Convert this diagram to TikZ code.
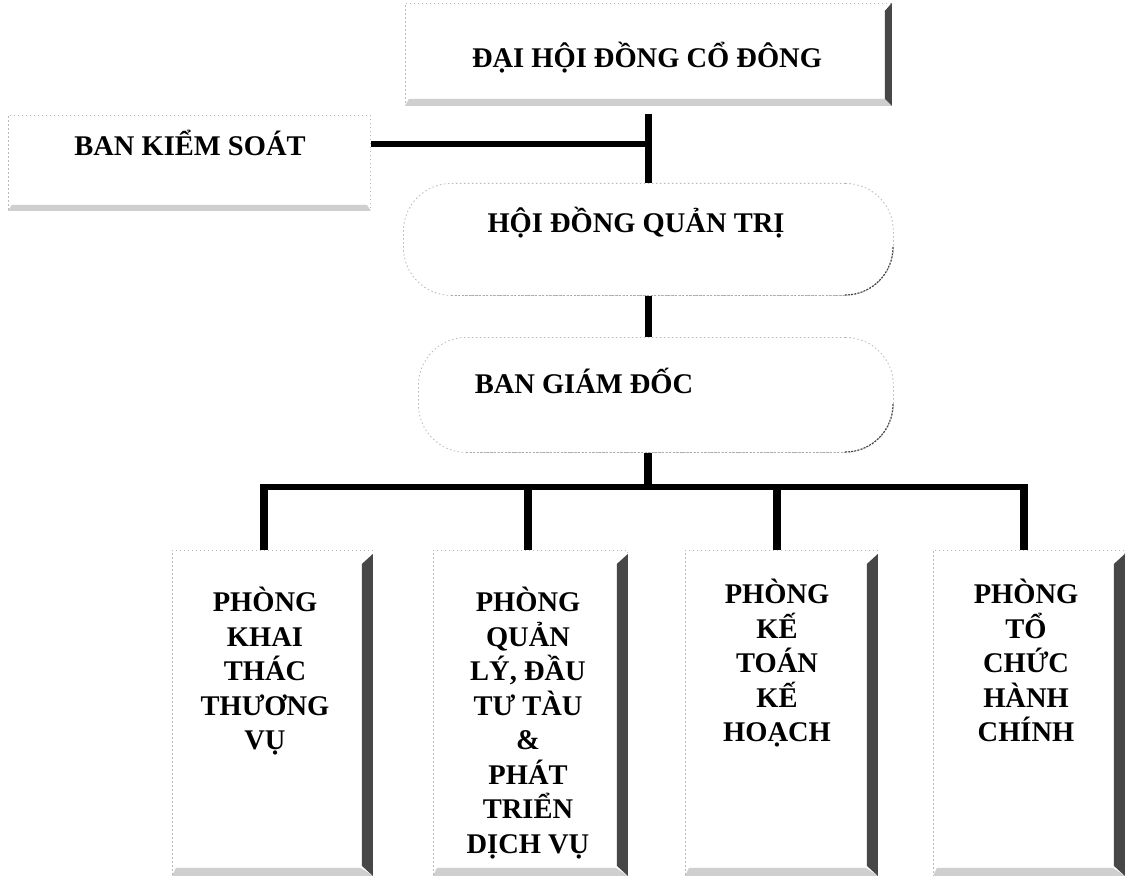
\documentclass[tikz,border=0pt]{standalone}
\usepackage{fontspec}
\setmainfont{Liberation Serif}
\begin{document}
\begin{tikzpicture}[x=1pt,y=-1pt]
\tikzset{
  boxedge/.style={draw=gray!55, line width=0.8pt, dash pattern=on 1.5pt off 2.5pt, inner sep=0pt, anchor=north west},
  roundbox/.style={boxedge, rounded corners=48pt},
  txt/.style={font=\bfseries\fontsize{28.5}{34.5}\selectfont, inner sep=0pt},
  mtxt/.style={txt, align=center, anchor=north},
  vbar/.style={line width=7.5pt},
  hbar/.style={line width=5.5pt},
  bevel/.style={fill=black!72},
  band/.style={fill=gray!38},
  darkarc/.style={draw=black!75, line width=1.1pt, dash pattern=on 2pt off 1.2pt},
  lightedge/.style={draw=gray!65, line width=1pt, dash pattern=on 2pt off 1.5pt}
}
\useasboundingbox (0,0) rectangle (1129,877);
\fill[white] (0,0) rectangle (1129,877);

% top box
\node[boxedge, minimum width=486pt, minimum height=102pt] (dhd) at (405,3) {};
\fill[band] (dhd.south west) -- (dhd.south east) -- ([xshift=-7pt,yshift=7pt]dhd.south east) -- ([xshift=4pt,yshift=7pt]dhd.south west) -- cycle;
\fill[bevel] (dhd.north east) -- (dhd.south east) -- ([xshift=-7pt,yshift=7pt]dhd.south east) -- ([xshift=-7pt,yshift=-8pt]dhd.north east) -- cycle;
\node[txt, anchor=base] (tdhd) at (647,68) {ĐẠI HỘI ĐỒNG CỔ ĐÔNG};

% ban kiem soat
\node[boxedge, minimum width=362pt, minimum height=95pt] (bks) at (8,115) {};
\fill[band] (bks.south west) -- (bks.south east) -- ([xshift=-4pt,yshift=6pt]bks.south east) -- ([xshift=4pt,yshift=6pt]bks.south west) -- cycle;
\node[txt, anchor=base] (tbks) at (190,156) {BAN KIỂM SOÁT};

% hoi dong quan tri
\node[roundbox, minimum width=490pt, minimum height=112pt] (hdqt) at (403,183) {};
\draw[lightedge] (451,295) -- (845,295);
\draw[darkarc] (893,247) arc[start angle=0, end angle=-90, radius=48pt];
\node[txt, anchor=base] (thdqt) at (636,233) {HỘI ĐỒNG QUẢN TRỊ};

% ban giam doc
\node[roundbox, minimum width=475pt, minimum height=115pt] (bgd) at (418,337) {};
\draw[lightedge] (466,452) -- (845,452);
\draw[darkarc] (893,404) arc[start angle=0, end angle=-90, radius=48pt];
\node[txt, anchor=base] (tbgd) at (584,393) {BAN GIÁM ĐỐC};

% bottom boxes
\foreach \n/\x/\w in {b1/172/200, b2/433/194, b3/685/192, b4/933/191}{
  \node[boxedge, minimum width=\w pt, minimum height=325pt] (\n) at (\x,550) {};
  \fill[band] (\n.south west) -- (\n.south east) -- ([xshift=-12pt,yshift=8pt]\n.south east) -- ([xshift=4pt,yshift=8pt]\n.south west) -- cycle;
  \fill[bevel] ([yshift=-4pt]\n.north east) -- (\n.south east) -- ([xshift=-11pt,yshift=10pt]\n.south east) -- ([xshift=-11pt,yshift=-14pt]\n.north east) -- cycle;
}
\node[mtxt] (t1) at (265,587) {PHÒNG\\KHAI\\THÁC\\THƯƠNG\\VỤ};
\node[mtxt] (t2) at (528,587) {PHÒNG\\QUẢN\\LÝ, ĐẦU\\TƯ TÀU\\\&\\PHÁT\\TRIỂN\\DỊCH VỤ};
\node[mtxt] (t3) at (777,579) {PHÒNG\\KẾ\\TOÁN\\KẾ\\HOẠCH};
\node[mtxt] (t4) at (1026,579) {PHÒNG\\TỔ\\CHỨC\\HÀNH\\CHÍNH};

% connectors
\coordinate (j1) at (648,144);
\draw[vbar] ([yshift=-8pt]dhd.south -| hdqt.north) -- (hdqt.north);
\draw[hbar] (bks.east |- j1) -- (j1);
\draw[vbar] (hdqt.south) -- (bgd.north -| hdqt.south);
\coordinate (bus) at (648,487);
\draw[vbar] (bgd.south -| bus) -- ([yshift=-2pt]bus);
\coordinate (d1) at (264,487);
\coordinate (d2) at (528,487);
\coordinate (d3) at (777,487);
\coordinate (d4) at (1024,487);
\draw[hbar, line cap=rect] (d1) -- (d4);
\foreach \d/\b in {d1/b1, d2/b2, d3/b3, d4/b4}{
  \draw[vbar] ([yshift=2.7pt]\d) -- (\d |- \b.north);
}
\end{tikzpicture}
\end{document}
